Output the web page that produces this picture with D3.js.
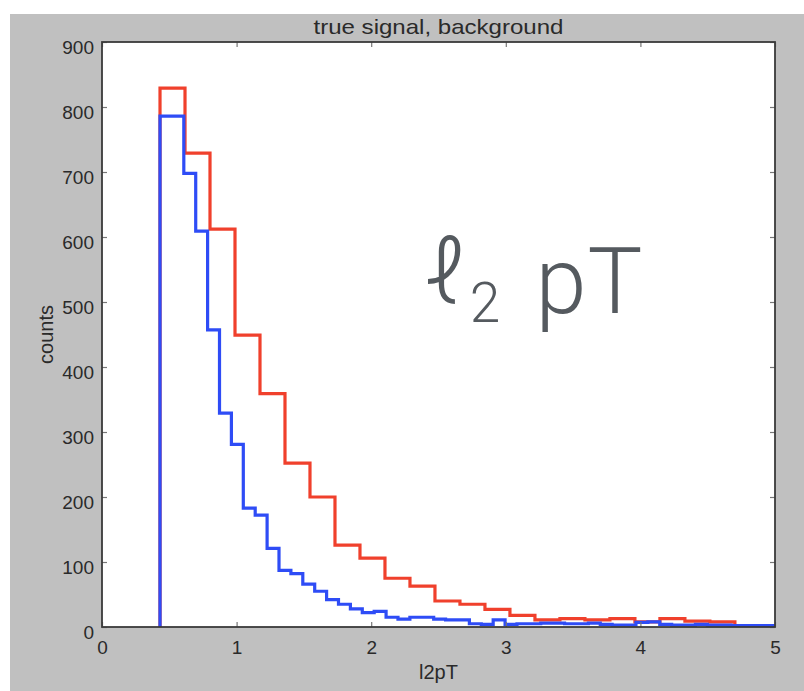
<!DOCTYPE html>
<html>
<head>
<meta charset="utf-8">
<script src="https://cdn.jsdelivr.net/npm/d3@7"></script>
<style>
  html, body { margin: 0; padding: 0; background: #ffffff; }
  svg { display: block; }
</style>
</head>
<body>
<svg id="chart" width="804" height="691"></svg>
<script>
// ---- data ----
const xTicks = [0, 1, 2, 3, 4, 5];
const yTicks = [0, 100, 200, 300, 400, 500, 600, 700, 800, 900];

// background histogram (red): coarse bins
const redStart = 0.431;
const redBinWidth = 0.1857;
const redCounts = [829, 729, 612, 449, 359, 252, 200, 126, 106, 75, 63, 40, 35, 27, 18, 11, 13, 11, 13, 8, 13, 9, 8];

// signal histogram (blue): fine bins
const blueStart = 0.431;
const blueBinWidth = 0.0884;
const blueCounts = [786, 786, 698, 609, 457, 329, 281, 183, 172, 121, 87, 82, 66, 55, 42, 35,
                    28, 22, 24, 15, 12, 15, 15, 12, 11, 11, 5, 4, 11, 4,
                    5, 5, 6, 6, 5, 5, 6, 4, 3, 3, 7, 8, 4, 3, 3, 4, 3, 3, 2, 2, 2, 2];

const titleText = "true signal, background";
const xLabel = "l2pT";
const yLabel = "counts";

// ---- layout ----
const svg = d3.select("#chart");
const M = { left: 102, top: 42, right: 775, bottom: 627 };

svg.append("rect").attr("x", 10).attr("y", 14).attr("width", 794).attr("height", 677)
   .attr("fill", "#c0c0c0");
svg.append("rect").attr("x", M.left).attr("y", M.top)
   .attr("width", M.right - M.left).attr("height", M.bottom - M.top).attr("fill", "#ffffff");

const x = d3.scaleLinear().domain([0, 5]).range([M.left, M.right]);
const y = d3.scaleLinear().domain([0, 900]).range([M.bottom, M.top]);

svg.append("clipPath").attr("id", "clip").append("rect")
   .attr("x", M.left).attr("y", M.top - 5).attr("width", M.right - M.left).attr("height", M.bottom - M.top + 5);

function stepPoints(start, w, counts) {
  const pts = [[start, 0]];
  counts.forEach((c, i) => {
    pts.push([start + i * w, c]);
    pts.push([start + (i + 1) * w, c]);
  });
  pts.push([start + counts.length * w, 0]);
  return pts;
}
const line = d3.line().x(d => x(d[0])).y(d => y(d[1]));

const g = svg.append("g").attr("clip-path", "url(#clip)");
g.append("path").attr("d", line(stepPoints(redStart, redBinWidth, redCounts)))
 .attr("fill", "none").attr("stroke", "#f0402c").attr("stroke-width", 3.2).attr("stroke-linejoin", "miter");
g.append("path").attr("d", line(stepPoints(blueStart, blueBinWidth, blueCounts)))
 .attr("fill", "none").attr("stroke", "#2e4cf6").attr("stroke-width", 3.2).attr("stroke-linejoin", "miter");

// ---- axes (MATLAB-style box with inward ticks) ----
const tickLen = 5;
const font = "'Liberation Sans', Arial, Helvetica, sans-serif";
const axBottom = d3.axisBottom(x).tickValues(xTicks).tickSize(-tickLen).tickPadding(13).tickFormat(d3.format("d"));
const axTop = d3.axisTop(x).tickValues(xTicks).tickSize(-tickLen).tickFormat("");
const axLeft = d3.axisLeft(y).tickValues(yTicks).tickSize(-tickLen).tickPadding(13).tickFormat(d3.format("d"));
const axRight = d3.axisRight(y).tickValues(yTicks).tickSize(-tickLen).tickFormat("");

function styleAxis(sel) {
  sel.select(".domain").remove();
  sel.selectAll(".tick line").attr("stroke", "#777").attr("stroke-width", 1.2);
  sel.selectAll(".tick text").attr("fill", "#2a2a2a").style("font-family", font).style("font-size", "19px");
}
svg.append("g").attr("transform", `translate(0,${M.bottom})`).call(axBottom).call(styleAxis)
   .selectAll(".tick text").attr("dy", null).attr("y", 27);
svg.append("g").attr("transform", `translate(0,${M.top})`).call(axTop).call(styleAxis);
svg.append("g").attr("transform", `translate(${M.left},0)`).call(axLeft).call(styleAxis)
   .selectAll(".tick text").attr("dy", null).attr("x", -8).attr("y", 11);
svg.append("g").attr("transform", `translate(${M.right},0)`).call(axRight).call(styleAxis);

// box frame
svg.append("rect").attr("x", M.left).attr("y", M.top)
   .attr("width", M.right - M.left).attr("height", M.bottom - M.top)
   .attr("fill", "none").attr("stroke", "#3a3a3a").attr("stroke-width", 1.8);

// ---- labels ----
svg.append("text").attr("x", (M.left + M.right) / 2).attr("y", 34)
   .attr("text-anchor", "middle").attr("textLength", 250).attr("lengthAdjust", "spacingAndGlyphs")
   .style("font-family", font).style("font-size", "21px").attr("fill", "#2a2a2a").text(titleText);
svg.append("text").attr("x", (M.left + M.right) / 2).attr("y", 679)
   .attr("text-anchor", "middle")
   .style("font-family", font).style("font-size", "20px").attr("fill", "#2a2a2a").text(xLabel);
svg.append("text").attr("transform", `translate(53,${(M.top + M.bottom) / 2}) rotate(-90)`)
   .attr("text-anchor", "middle")
   .style("font-family", font).style("font-size", "20px").attr("fill", "#2a2a2a").text(yLabel);

// ---- big annotation ----
const annFont = "Roboto, 'Open Sans', 'DejaVu Sans', sans-serif";
const annColor = "#555a5f";
svg.append("text").attr("x", 445).attr("y", 303).attr("text-anchor", "middle")
   .style("font-family", "Roboto, 'Noto Sans', 'Liberation Sans', sans-serif").style("font-weight", 300).style("font-size", "90px")
   .attr("fill", annColor).text("ℓ");
svg.append("text").attr("x", 485).attr("y", 322).attr("text-anchor", "middle")
   .style("font-family", annFont).style("font-weight", 300).style("font-size", "55px")
   .attr("fill", annColor).text("2");
svg.append("text").attr("x", 561).attr("y", 313).attr("text-anchor", "middle")
   .style("font-family", annFont).style("font-weight", 300).style("font-size", "92px")
   .attr("fill", annColor).text("p");
svg.append("text").attr("x", 615).attr("y", 313).attr("text-anchor", "middle")
   .style("font-family", annFont).style("font-weight", 300).style("font-size", "92px")
   .attr("fill", annColor).text("T");
</script>
</body>
</html>
